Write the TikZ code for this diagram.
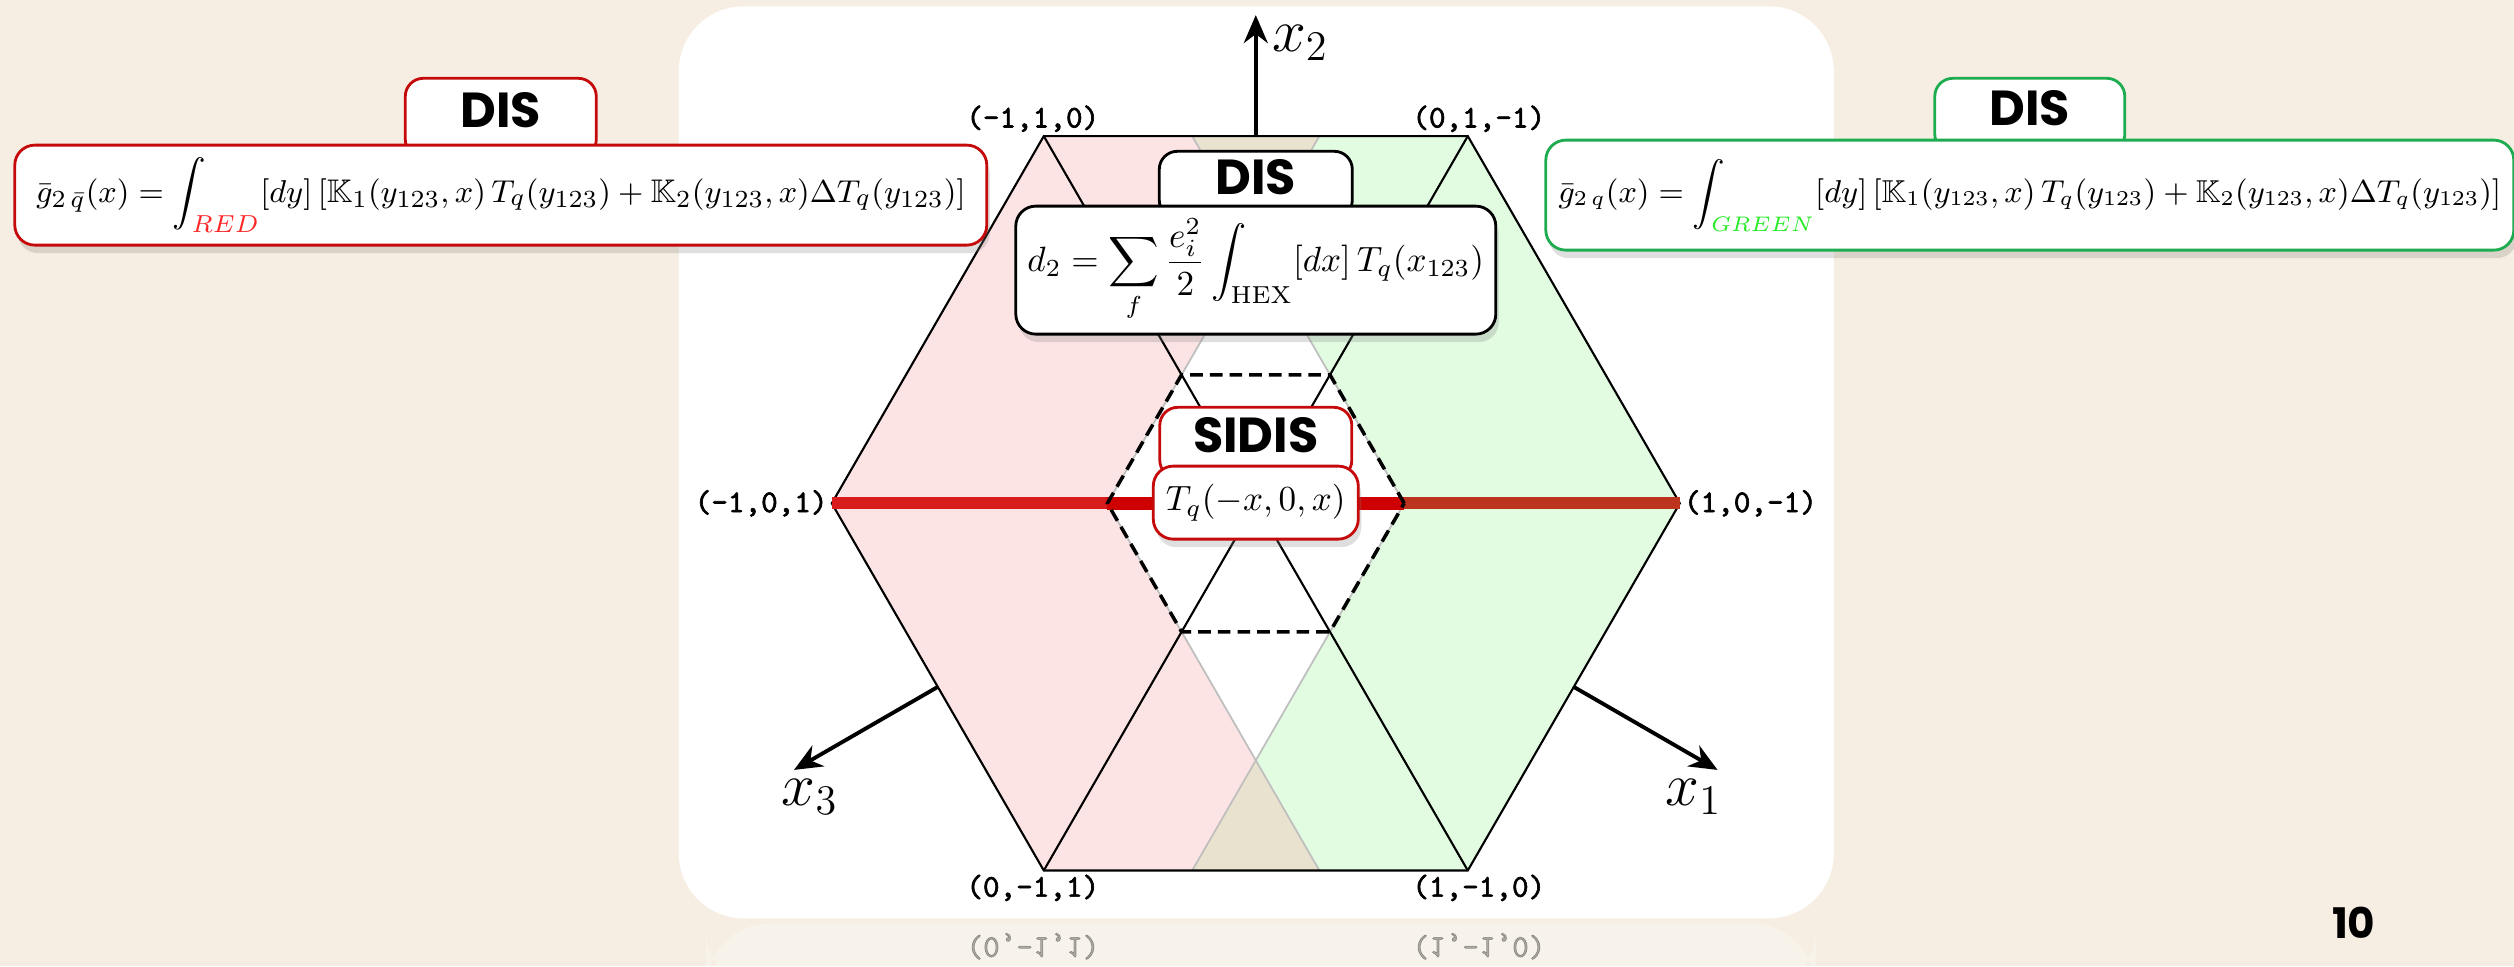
\documentclass[tikz,border=0pt]{standalone}
\usepackage{amsmath, amssymb}
\usepackage{graphicx}
\usepackage{fontspec}
\newfontfamily\tagfont{Poppins}
\newfontfamily\coordfont{lmmono10-regular.otf}[FakeBold=2]
\usetikzlibrary{arrows.meta, positioning, shadows, calc}

\definecolor{cream}{RGB}{246,238,226}
\definecolor{pinkfill}{RGB}{253,228,228}
\definecolor{greenfill}{RGB}{226,252,226}
\definecolor{overlap}{RGB}{233,226,206}
\definecolor{boxred}{RGB}{196,10,10}
\definecolor{boxgreen}{RGB}{30,172,80}
\definecolor{lineA}{RGB}{216,28,30}
\definecolor{lineB}{RGB}{206,0,0}
\definecolor{lineC}{RGB}{188,52,30}
\definecolor{redsub}{RGB}{255,40,40}
\definecolor{greensub}{RGB}{40,235,40}

\def\hexR{4.24}
\def\hexH{3.672}
\def\inR{1.484}

\begin{document}
\begin{tikzpicture}[
  eqbox/.style={draw, line width=0.8pt, rounded corners=2mm, fill=white, inner sep=2pt,
    drop shadow={shadow xshift=0.3mm, shadow yshift=-0.8mm, opacity=0.25}},
  tagbox/.style={draw, line width=0.8pt, rounded corners=1.8mm, fill=white, inner sep=0pt,
    font=\tagfont\bfseries\fontsize{14}{14}\selectfont},
  vlabel/.style={font=\coordfont\fontsize{9}{9}\selectfont, inner sep=1pt},
  axlabel/.style={font=\fontsize{17}{17}\selectfont, inner sep=1pt},
  axis/.style={-{Stealth[length=2.8mm, width=2.4mm]}, line width=1.1pt},
  hexline/.style={line width=0.6pt},
]
  \useasboundingbox (-12.558,-4.627) rectangle (12.582,5.033);
  \fill[cream] (-12.558,-4.627) rectangle (12.582,5.033);

  % slide panel and its reflection
  \fill[white, opacity=0.3, rounded corners=6.5mm] (-5.5,-4.9) rectangle (5.6,-4.2);
  \fill[white, rounded corners=6.5mm] (-5.77,-4.15) rectangle (5.78,4.97);

  % hexagon corners
  \coordinate (v1) at (0:\hexR);
  \coordinate (v2) at (60:\hexR);
  \coordinate (v3) at (120:\hexR);
  \coordinate (v4) at (180:\hexR);
  \coordinate (v5) at (240:\hexR);
  \coordinate (v6) at (300:\hexR);
  \foreach \k in {1,...,6} {
    \coordinate (i\k) at ({(\k-1)*60}:\inR);
  }
  \coordinate (rt) at (0.636,\hexH);
  \coordinate (rb) at (0.636,-\hexH);
  \coordinate (gt) at (-0.636,\hexH);
  \coordinate (gb) at (-0.636,-\hexH);
  \coordinate (ot) at (0,2.57);
  \coordinate (ob) at (0,-2.57);

  % RED and GREEN regions
  \fill[pinkfill] (v3) -- (rt) -- (i4) -- (rb) -- (v5) -- (v4) -- cycle;
  \fill[greenfill] (gt) -- (i1) -- (gb) -- (v6) -- (v1) -- (v2) -- cycle;
  \fill[overlap] (gt) -- (rt) -- (ot) -- cycle;
  \fill[overlap] (gb) -- (rb) -- (ob) -- cycle;
  \draw[black!25, line width=0.5pt] (rt) -- (i4) -- (rb) (gt) -- (i1) -- (gb);

  \draw[hexline] (v1) -- (v2) -- (v3) -- (v4) -- (v5) -- (v6) -- cycle;
  \draw[hexline] (v3) -- (v6) (v2) -- (v5);

  % x2 = 0 line
  \draw[lineA, line width=3.4pt] (v4) -- (i4);
  \draw[lineB, line width=3.8pt] (i4) -- (i1);
  \draw[lineC, line width=3.4pt] (i1) -- (v1);

  \draw[line width=1pt, dash pattern=on 3.6pt off 2pt]
    (i1) -- (i2) -- (i3) -- (i4) -- (i5) -- (i6) -- cycle;

  % axes
  \coordinate (m2) at ($(v2)!0.5!(v3)$);
  \coordinate (m3) at ($(v4)!0.5!(v5)$);
  \coordinate (m1) at ($(v6)!0.5!(v1)$);
  \coordinate (x2tip) at ($(m2)+(90:1.21)$);
  \coordinate (x3tip) at ($(m3)+(210:1.66)$);
  \coordinate (x1tip) at ($(m1)+(-30:1.66)$);
  \draw[axis] (m2) -- (x2tip);
  \draw[axis] (m3) -- (x3tip);
  \draw[axis] (m1) -- (x1tip);
  \node[axlabel, right=1.2mm of x2tip, yshift=-2.8mm] (x2lab) {$x_2$};
  \node[axlabel, below=0.5mm of x3tip, xshift=1.6mm] (x3lab) {$x_3$};
  \node[axlabel, below=0.5mm of x1tip, xshift=-2.4mm] (x1lab) {$x_1$};

  % corner labels
  \node[vlabel, above=0pt of v3, xshift=-1.1mm] (l3) {(-1,1,0)};
  \node[vlabel, above=0pt of v2, xshift=1.1mm] (l2) {(0,1,-1)};
  \node[vlabel, left=0pt of v4] (l4) {(-1,0,1)};
  \node[vlabel, right=0pt of v1] (l1) {(1,0,-1)};
  \node[vlabel, below=0pt of v5, xshift=-1.1mm] (l5) {(0,-1,1)};
  \node[vlabel, below=0pt of v6, xshift=1.1mm] (l6) {(1,-1,0)};
  \node[vlabel, opacity=0.3] (l5mirror) at (-2.228,-4.43) {\scalebox{1}[-1]{(0,-1,1)}};
  \node[vlabel, opacity=0.3] (l6mirror) at (2.232,-4.43) {\scalebox{1}[-1]{(1,-1,0)}};

  % DIS over the RED region
  \node[tagbox, draw=boxred, minimum width=1.91cm, minimum height=0.79cm] (redtag) at (-7.55,3.855) {\raisebox{1.5mm}{DIS}};
  \node[eqbox, draw=boxred, below=-1.5mm of redtag, minimum width=9.72cm, minimum height=1.0cm] (redeq)
    {\fontsize{9.3}{10}\selectfont $\displaystyle \bar g_{2\,\bar q}(x)=\int_{\color{redsub}RED}[dy]\,[\mathbb{K}_1(y_{123},x)\,T_q(y_{123})+\mathbb{K}_2(y_{123},x)\Delta T_q(y_{123})]$};

  % DIS over the GREEN region
  \node[tagbox, draw=boxgreen, minimum width=1.90cm, minimum height=0.74cm] (greentag) at (7.74,3.88) {\raisebox{1.5mm}{DIS}};
  \node[eqbox, draw=boxgreen, below=-1.5mm of greentag, minimum width=9.68cm, minimum height=1.1cm] (greeneq)
    {\fontsize{9}{10}\selectfont $\displaystyle \bar g_{2\,q}(x)=\int_{\color{greensub}GREEN}[dy]\,[\mathbb{K}_1(y_{123},x)\,T_q(y_{123})+\mathbb{K}_2(y_{123},x)\Delta T_q(y_{123})]$};

  % DIS over the whole hexagon
  \node[tagbox, minimum width=1.93cm, minimum height=0.67cm] (hextag) at (0,3.185) {\raisebox{1.5mm}{DIS}};
  \node[eqbox, below=-1.5mm of hextag, minimum width=4.8cm, minimum height=1.28cm] (hexeq)
    {\fontsize{10}{12}\selectfont $\displaystyle d_2=\sum_f\frac{e_i^2}{2}\int_{\mathrm{HEX}}[dx]\,T_q(x_{123})$};

  % SIDIS on the x2 = 0 line
  \node[tagbox, draw=boxred, minimum width=1.92cm, minimum height=0.71cm] (sidistag) at (0,0.605) {\raisebox{1.5mm}{SIDIS}};
  \node[eqbox, draw=boxred, below=-1.5mm of sidistag, minimum width=2.05cm, minimum height=0.73cm] (sidiseq)
    {\fontsize{10}{12}\selectfont $T_q(-x,0,x)$};

  \node[font=\tagfont\bfseries\fontsize{12}{12}\selectfont] (pagenum) at (10.98,-4.19) {10};
\end{tikzpicture}
\end{document}
